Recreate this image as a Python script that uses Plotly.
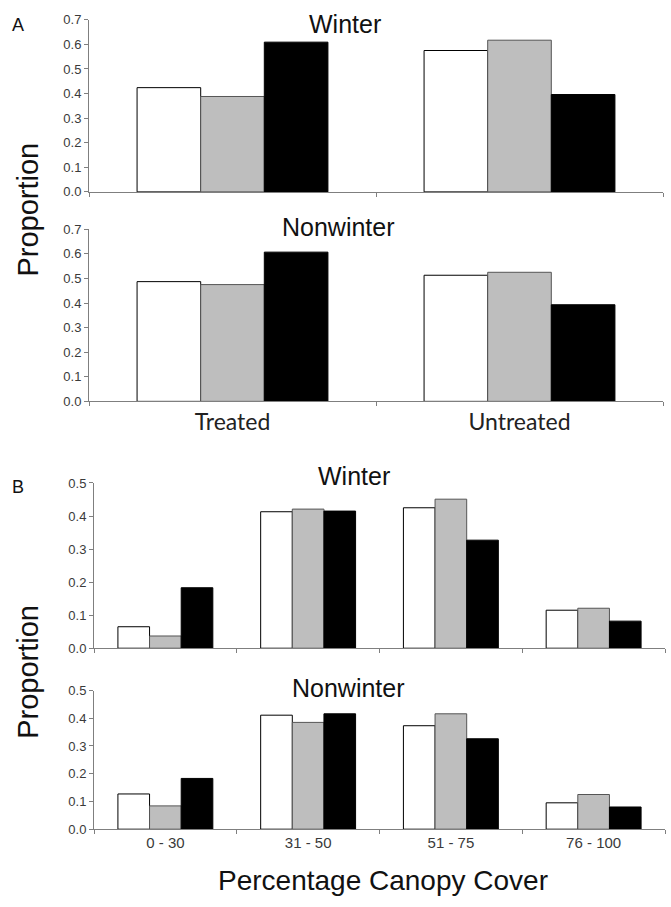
import plotly.graph_objects as go

W, H = 671, 907

# ---- data ----
groups_a = ["Treated", "Untreated"]
a_winter_white = [0.424, 0.575]
a_winter_grey = [0.388, 0.617]
a_winter_black = [0.609, 0.396]
a_nonwinter_white = [0.487, 0.513]
a_nonwinter_grey = [0.475, 0.525]
a_nonwinter_black = [0.607, 0.393]

groups_b = ["0 - 30", "31 - 50", "51 - 75", "76 - 100"]
b_winter_white = [0.065, 0.413, 0.425, 0.115]
b_winter_grey = [0.037, 0.421, 0.451, 0.121]
b_winter_black = [0.183, 0.415, 0.327, 0.082]
b_nonwinter_white = [0.127, 0.411, 0.373, 0.095]
b_nonwinter_grey = [0.084, 0.385, 0.416, 0.125]
b_nonwinter_black = [0.183, 0.416, 0.326, 0.080]

fills = ["#FFFFFF", "#BEBEBE", "#000000"]
edges = ["#000000", "#555555", "#000000"]


def px(x):
    return x / W


def py(y):
    return 1 - y / H


fig = go.Figure()

panels = [
    (groups_a, [a_winter_white, a_winter_grey, a_winter_black], "x", "y"),
    (groups_a, [a_nonwinter_white, a_nonwinter_grey, a_nonwinter_black], "x2", "y2"),
    (groups_b, [b_winter_white, b_winter_grey, b_winter_black], "x3", "y3"),
    (groups_b, [b_nonwinter_white, b_nonwinter_grey, b_nonwinter_black], "x4", "y4"),
]
for cats, series, xa, ya in panels:
    for vals, fc, ec in zip(series, fills, edges):
        fig.add_trace(go.Bar(x=cats, y=vals, xaxis=xa, yaxis=ya,
                             marker=dict(color=fc, line=dict(color=ec, width=1)),
                             showlegend=False))

axis_line = "#7F7F7F"
tickfont = dict(family="Liberation Sans, Arial", size=13, color="#3a3a3a")


def xax(domain, anchor, labels, font):
    d = dict(domain=domain, anchor=anchor, showline=True, linecolor=axis_line,
             linewidth=1, ticks="outside", ticklen=4, tickcolor=axis_line,
             tickson="boundaries", showgrid=False, zeroline=False,
             fixedrange=True)
    if labels:
        d.update(showticklabels=True, tickfont=font)
    else:
        d.update(showticklabels=False)
    return d


def yax(domain, anchor, top):
    return dict(domain=domain, anchor=anchor, range=[0, top], dtick=0.1,
                tickformat=".1f", showline=True, linecolor=axis_line, linewidth=1,
                ticks="outside", ticklen=4, tickcolor=axis_line, showgrid=False,
                zeroline=False, tickfont=tickfont, fixedrange=True)


xa_dom = [px(89), px(663)]
xb_dom = [px(94), px(665)]

fig.update_layout(
    width=W, height=H,
    margin=dict(l=0, r=0, t=0, b=0),
    paper_bgcolor="white", plot_bgcolor="white",
    barmode="group", bargap=0.335, bargroupgap=0,
    xaxis=xax(xa_dom, "y", False, None),
    yaxis=yax([py(188), py(13)], "x", 0.7),
    xaxis2=xax(xa_dom, "y2", True, dict(family="Lato, Noto Sans", size=23, color="#222222")),
    yaxis2=yax([py(401), py(226)], "x2", 0.7),
    xaxis3=xax(xb_dom, "y3", False, None),
    yaxis3=yax([py(652), py(484)], "x3", 0.5),
    xaxis4=xax(xb_dom, "y4", True, dict(family="Liberation Sans, Arial", size=15, color="#3a3a3a")),
    yaxis4=yax([py(836), py(695)], "x4", 0.5),
)

title_font = dict(family="Liberation Sans, Arial", size=25, color="#111111")
big_font = dict(family="Liberation Sans, Arial", size=29, color="#111111")
anns = [
    ("A", 18, 18, dict(family="Liberation Sans, Arial", size=18, color="#111111"), 0),
    ("B", 18, 488, dict(family="Liberation Sans, Arial", size=18, color="#111111"), 0),
    ("Winter", 345, 17, title_font, 0),
    ("Nonwinter", 339, 224, title_font, 0),
    ("Winter", 354, 477, title_font, 0),
    ("Nonwinter", 348, 692, title_font, 0),
    ("Proportion", 28, 206, big_font, -90),
    ("Proportion", 28, 676, big_font, -90),
    ("Percentage Canopy Cover", 383, 888, dict(family="Liberation Sans, Arial", size=28, color="#111111"), 0),
]
for text, x, y, font, ang in anns:
    fig.add_annotation(text=text, x=px(x), y=py(y), xref="paper", yref="paper",
                       xanchor="center", yanchor="middle", showarrow=False,
                       font=font, textangle=ang)

fig.write_html("out.html", config={"displayModeBar": False},
               post_script="document.body.style.margin='0';document.body.style.overflow='hidden';")
